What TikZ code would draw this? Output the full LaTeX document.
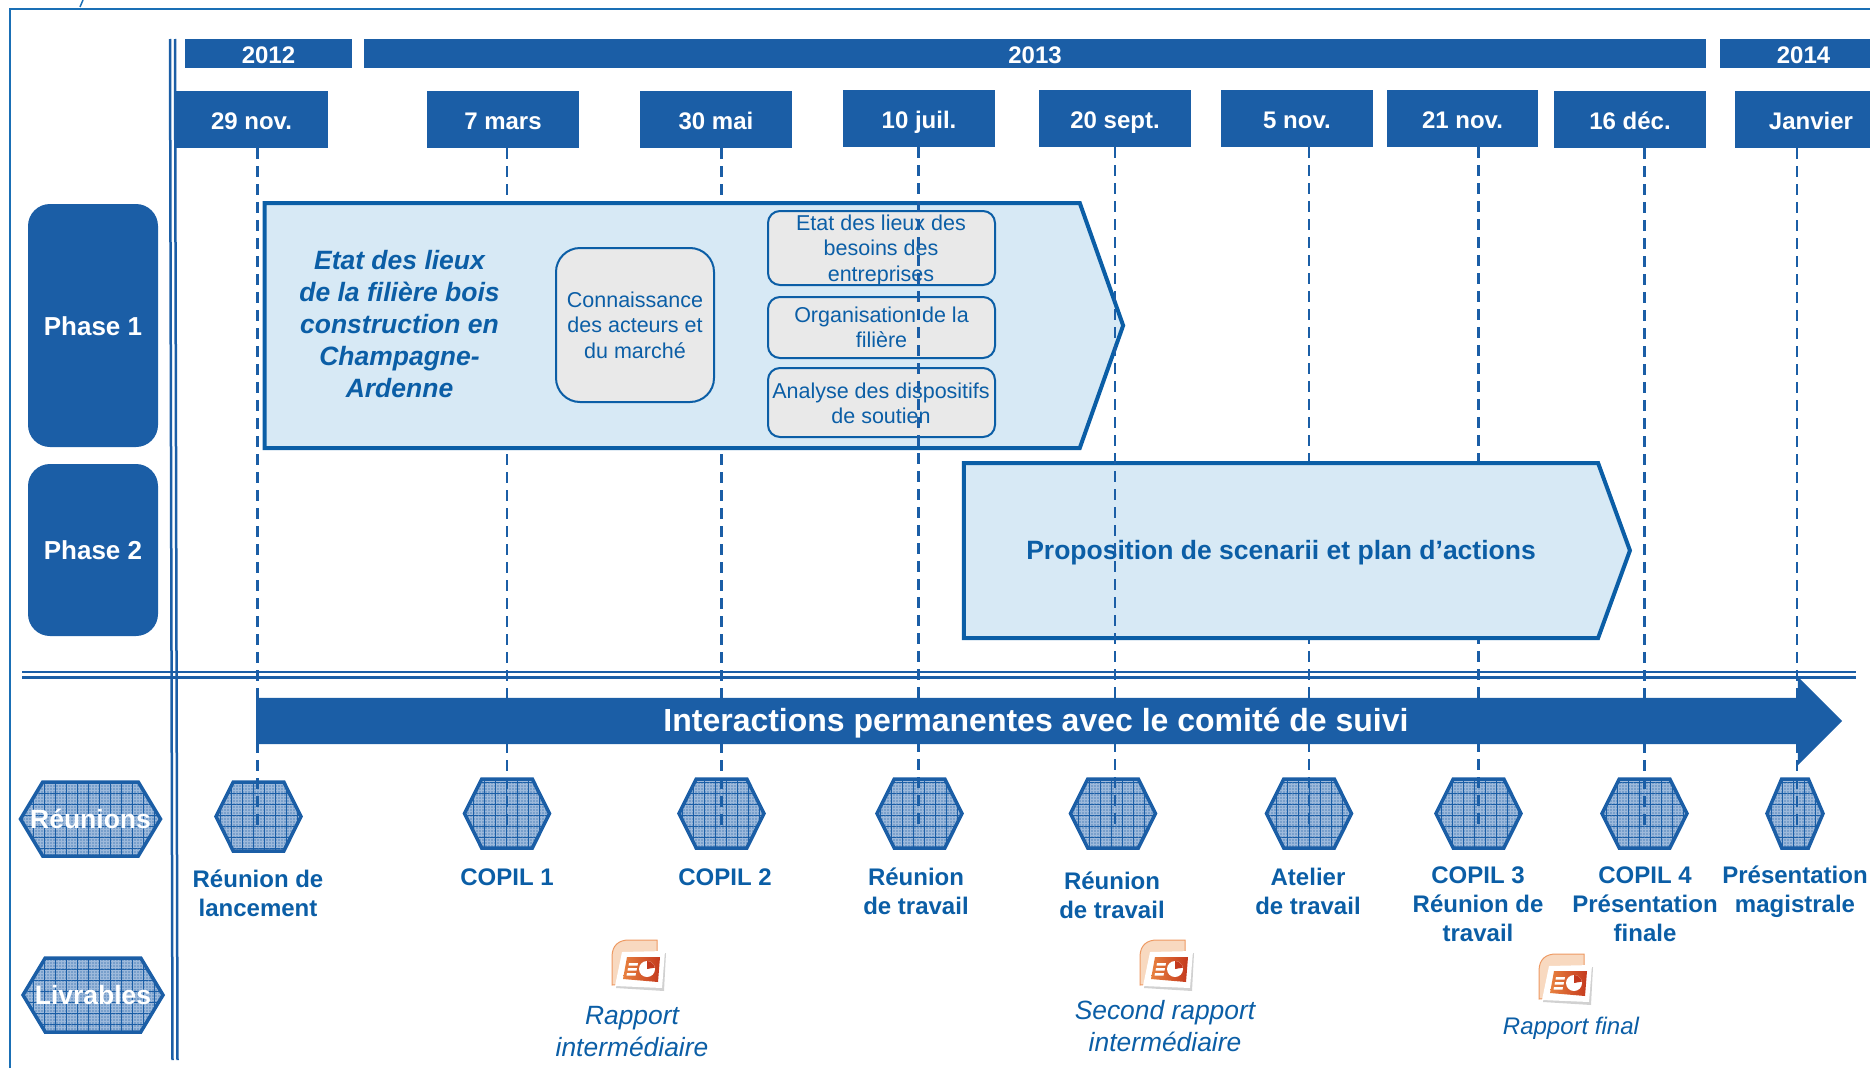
\documentclass[tikz,border=0pt]{standalone}
\usepackage{fontspec}
\setmainfont{Liberation Sans}
\usetikzlibrary{positioning,shapes.symbols,shapes.arrows,patterns.meta}
\definecolor{mainblue}{HTML}{1B5EA6}
\definecolor{textblue}{HTML}{0B5EA6}
\definecolor{framblue}{HTML}{1A6FB5}
\definecolor{lightblue}{HTML}{D7E9F5}
\definecolor{greybox}{HTML}{E9E9E9}
\definecolor{hexblue}{HTML}{9DB9DB}
\definecolor{pptback}{HTML}{F8D9C0}
\definecolor{pptedge}{HTML}{EE9A63}
\definecolor{pptleft}{HTML}{E8813F}
\definecolor{pptright}{HTML}{C4391D}
\tikzset{
  yearbar/.style={fill=mainblue, text=white, inner sep=0pt, minimum height=29pt, text height=20pt, text depth=0pt, font=\fontsize{24}{29}\selectfont\bfseries},
  datebox/.style={fill=mainblue, text=white, inner sep=0pt, minimum height=57pt, text height=19.5pt, text depth=0pt, font=\fontsize{24}{29}\selectfont\bfseries},
  phasebox/.style={fill=mainblue, text=white, rounded corners=22pt, inner sep=0pt, minimum width=130pt, text height=19.5pt, text depth=0pt, font=\fontsize{26}{31}\selectfont\bfseries},
  hexa/.style={signal, signal to=east and west, draw=mainblue, line width=3.5pt, inner sep=0pt,
    minimum width=85pt, minimum height=69pt, signal pointer angle=127,
    preaction={fill=hexblue},
    preaction={pattern={Dots[distance=3pt,radius=0.8pt]}, pattern color=mainblue!75},
    preaction={pattern={Hatch[angle=0,distance=11pt,line width=0.6pt]}, pattern color=mainblue}},
  hexlabel/.style={hexa, minimum width=140pt, minimum height=74pt, signal pointer angle=118},
  hextext/.style={text=white, inner sep=0pt, font=\fontsize{26.5}{31}\selectfont\bfseries},
  phasearrow/.style={signal, signal to=east, draw=textblue, fill=lightblue, line width=4pt, inner sep=0pt},
  subbox/.style={draw=textblue, fill=greybox, line width=2pt, rounded corners=12pt, inner sep=0pt, text=textblue, align=center, font=\fontsize{21.5}{25.5}\selectfont},
  subtext/.style={inner sep=0pt, text=textblue, align=center, font=\fontsize{21.5}{25.5}\selectfont},
  meetlabel/.style={text=textblue, inner sep=0pt, align=center, font=\fontsize{24}{29}\selectfont\bfseries},
  reportlabel/.style={text=textblue, inner sep=0pt, align=center, font=\fontsize{26.4}{32}\selectfont\itshape},
  dashline/.style={draw=mainblue, line width=2.8pt, dash pattern=on 11pt off 7pt},
  pptic/.pic={
    \fill[pptback, draw=pptedge, line width=1pt] (-27,20) -- (-27,-8) .. controls (-27,-20) and (-20,-25) .. (-10,-25) -- (18,-25) -- (18,18) -- cycle;
    \fill[black!18] (-23,23) -- (-17,-11) -- (27,-12) -- (25,26) -- cycle;
    \fill[white] (-24,21) -- (-17,-13) -- (26,-14) -- (23,23) -- cycle;
    \shade[left color=pptleft, right color=pptright] (-12,-8) -- (21,-8) -- (19,17) -- (-16,14) -- cycle;
    \fill[white] (-10,-2) -- (-1,-2) -- (-1.5,0.5) -- (-10.5,0.5) -- cycle;
    \fill[white] (-11,3) -- (-2,3) -- (-2.5,5.5) -- (-11.5,5.5) -- cycle;
    \fill[white] (-12,8) -- (-3,8) -- (-3.5,10.5) -- (-12.5,10.5) -- cycle;
    \fill[white] (8,4) circle (8);
    \fill[pptright] (8,4) -- (8,-4) arc (-90:-10:8) -- cycle;
  }
}

\begin{document}
\begin{tikzpicture}[x=1pt, y=-1pt]
  \useasboundingbox (0,0) rectangle (1870,1068);

  % frame
  \coordinate (fa) at (10,1068);
  \coordinate (fb) at (10,9);
  \coordinate (fc) at (1870,9);
  \draw[framblue, line width=2pt] (fa) -- (fb) -- (fc);
  \coordinate (ma) at (83,0);
  \coordinate (mb) at (80,7);
  \draw[framblue, line width=1.5pt] (ma) -- (mb);

  % years
  \node [yearbar, minimum width=167pt] (y12) at (268.5,53.5) {2012};
  \node [yearbar, minimum width=1342pt] (y13) at (1035,53.5) {2013};
  \node [yearbar, minimum width=167pt] (y14) at (1803.5,53.5) {2014};

  % dates
  \node [datebox, minimum width=153pt] (d1) at (251.5,119.5) {29 nov.};
  \node [datebox, minimum width=152pt] (d2) at (503,119.5) {7 mars};
  \node [datebox, minimum width=152pt] (d3) at (716,119.5) {30 mai};
  \node [datebox, minimum width=152pt] (d4) at (919,118.5) {10 juil.};
  \node [datebox, minimum width=152pt] (d5) at (1115,118.5) {20 sept.};
  \node [datebox, minimum width=152pt] (d6) at (1297,118.5) {5 nov.};
  \node [datebox, minimum width=151pt] (d7) at (1462.5,118.5) {21 nov.};
  \node [datebox, minimum width=152pt] (d8) at (1630,119.5) {16 déc.};
  \node [datebox, minimum width=152pt] (d9) at (1811,119.5) {Janvier};

  % left column
  \node [phasebox, minimum height=243pt] (p1) at (93,325.5) {Phase 1};
  \node [phasebox, minimum height=172pt] (p2) at (93,550) {Phase 2};
  \node [hexlabel] (lr) at (90.5,819) {};
  \node [hexlabel] (ll) at (93,995) {};
  \node [hextext] (lrt) at (lr) {Réunions};
  \node [hextext] (llt) at (ll) {Livrables};

  % meetings
  \node [hexa] (h1) at (258.5,816.5) {};
  \node [hexa] (h2) at (507,813.5) {};
  \node [hexa] (h3) at (721.5,813.5) {};
  \node [hexa] (h4) at (919.5,813.5) {};
  \node [hexa] (h5) at (1113,813.5) {};
  \node [hexa] (h6) at (1309,813.5) {};
  \node [hexa] (h7) at (1478.5,813.5) {};
  \node [hexa] (h8) at (1644.5,813.5) {};
  \node [hexa, minimum width=56pt, signal pointer angle=134] (h9) at (1795,813.5) {};

  \draw[dashline] ([xshift=-1pt]h1 |- d1.south) -- ([xshift=-1pt,yshift=-15pt]h1.center);
  \draw[dashline] (h2 |- d2.south) -- ([yshift=-15pt]h2.center);
  \draw[dashline] (h3 |- d3.south) -- ([yshift=-15pt]h3.center);
  \draw[dashline] (h6 |- d6.south) -- ([yshift=-15pt]h6.center);
  \draw[dashline] (h7 |- d7.south) -- ([yshift=-15pt]h7.center);
  \draw[dashline] (h8 |- d8.south) -- ([yshift=-15pt]h8.center);
  \draw[dashline] ([xshift=2pt]h9 |- d9.south) -- ([xshift=2pt,yshift=-15pt]h9.center);

  % phases
  \node [phasearrow, minimum width=858.5pt, minimum height=245pt, signal pointer angle=141] (fa1) at (672.2,325.5) {};
  \node [phasearrow, minimum width=666pt, minimum height=175pt, signal pointer angle=140] (fa2) at (1281,550.5) {};
  \node [text=textblue, inner sep=0pt, align=center, font=\fontsize{26.5}{32}\selectfont\bfseries\itshape] (t1) at (399.5,324) {Etat des lieux\\de la filière bois\\construction en\\Champagne-\\Ardenne};
  \node [text=textblue, inner sep=0pt, font=\fontsize{26.5}{31}\selectfont\bfseries] (t2) at (1281,553) {Proposition de scenarii et plan d’actions};
  \node [subbox, minimum width=158pt, minimum height=154pt, rounded corners=24pt] (s1) at (635,325) {Connaissance\\des acteurs et\\du marché};
  \node [subbox, minimum width=227pt, minimum height=74pt] (s2) at (881.5,248) {};
  \node [subtext] (s2t) at (881,250) {Etat des lieux des\\besoins des\\entreprises};
  \node [subbox, minimum width=227pt, minimum height=61pt] (s3) at (881.5,327.5) {Organisation de la\\filière};
  \node [subbox, minimum width=227pt, minimum height=69pt] (s4) at (881.5,402.5) {};
  \node [subtext] (s4t) at (881,403.5) {Analyse des dispositifs\\de soutien};

  \draw[dashline] ([xshift=-1pt]h4 |- d4.south) -- ([xshift=-1pt,yshift=-15pt]h4.center);
  \draw[dashline] (d5.south) -- ([yshift=-15pt]d5 |- h5);

  % double rules
  \coordinate (va) at (170,39);
  \coordinate (vb) at (172.5,1060);
  \coordinate (vc) at (175,39);
  \coordinate (vd) at (177.5,1060);
  \draw[mainblue, line width=2.5pt] (va) -- (vb);
  \draw[mainblue, line width=2.5pt] (vc) -- (vd);
  \coordinate (ha) at (22,672);
  \coordinate (hb) at (1856,672);
  \coordinate (hc) at (22,677.5);
  \coordinate (hd) at (1856,677.5);
  \draw[mainblue, line width=2.5pt] (ha) -- (hb);
  \draw[mainblue, line width=2.5pt] (hc) -- (hd);

  % big arrow
  \node [single arrow, fill=mainblue, inner xsep=0pt, inner ysep=23pt, minimum width=87pt, minimum height=1586pt,
    single arrow head extend=21pt, single arrow head indent=0pt] (ar) at (1037.5,721) {};
  \node [text=white, inner sep=0pt, font=\fontsize{32}{36}\selectfont\bfseries] (art) at (1036,723) {Interactions permanentes avec le comité de suivi};

  % meeting labels
  \node [meetlabel] (n1) at (258,893.5) {Réunion de\\lancement};
  \node [meetlabel] (n2) at (507,877) {COPIL 1};
  \node [meetlabel] (n3) at (725,877) {COPIL 2};
  \node [meetlabel] (n4) at (916,891.5) {Réunion\\de travail};
  \node [meetlabel] (n5) at (1112,895.5) {Réunion\\de travail};
  \node [meetlabel] (n6) at (1308,891.5) {Atelier\\de travail};
  \node [meetlabel] (n7) at (1478,904.5) {COPIL 3\\Réunion de\\travail};
  \node [meetlabel] (n8) at (1645,904.5) {COPIL 4\\Présentation\\finale};
  \node [meetlabel] (n9) at (1795,891.5) {Présentation\\magistrale};

  % reports
  \pic at (639,965) {pptic};
  \pic at (1167,965) {pptic};
  \pic at (1566,979) {pptic};
  \node [reportlabel] (r1) at (632,1032) {Rapport\\intermédiaire};
  \node [reportlabel] (r2) at (1165,1026) {Second rapport\\intermédiaire};
  \node [reportlabel, font=\fontsize{24}{29}\selectfont\itshape] (r3) at (1571,1028) {Rapport final};
\end{tikzpicture}
\end{document}
